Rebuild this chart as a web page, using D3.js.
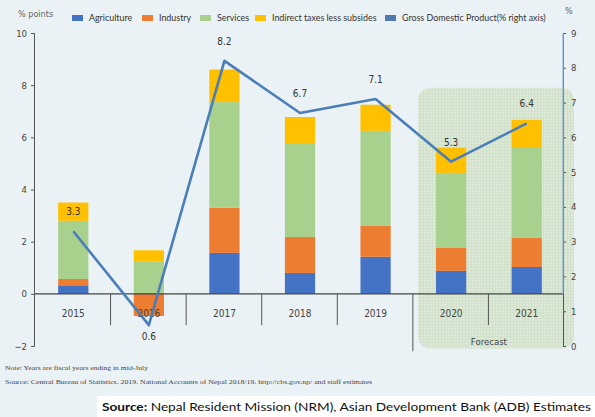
<!DOCTYPE html>
<html>
<head>
<meta charset="utf-8">
<script src="https://cdn.jsdelivr.net/npm/d3@7"></script>
<style>
  body { margin: 0; background: #fff; }
  svg text { font-family: "Liberation Sans Narrow", "DejaVu Sans Condensed", sans-serif; }
  .tick text { font-size: 9.5px; fill: #444; }
  .legend text { font-family: Lato, sans-serif; font-size: 8.9px; fill: #333; }
</style>
</head>
<body>
<div id="chart"></div>
<script>
// data
var years = ['2015', '2016', '2017', '2018', '2019', '2020', '2021'];
var agriculture = [0.3, 0.02, 1.57, 0.8, 1.42, 0.88, 1.03];
var industry = [0.27, -0.85, 1.73, 1.38, 1.18, 0.88, 1.11];
var services = [2.23, 1.23, 4.05, 3.6, 3.65, 2.88, 3.49];
var indirectTaxes = [0.7, 0.42, 1.25, 1.0, 1.0, 0.96, 1.04];
var gdp = [3.3, 0.6, 8.2, 6.7, 7.1, 5.3, 6.4];
var leftTicks = [-2, 0, 2, 4, 6, 8, 10];
var rightTicks = [0, 1, 2, 3, 4, 5, 6, 7, 8, 9];
var forecastYears = ['2020', '2021'];

var seriesKeys = ['agriculture', 'industry', 'services', 'indirect'];
var seriesNames = ['Agriculture', 'Industry', 'Services', 'Indirect taxes less subsides'];
var colors = ['#4472c4', '#ed7d31', '#a9d18e', '#ffc000'];
var lineColor = '#4a7ebb';

var rows = years.map(function (y, i) {
  return { year: y, agriculture: agriculture[i], industry: industry[i],
           services: services[i], indirect: indirectTaxes[i], gdp: gdp[i] };
});

var W = 595, H = 417;
var plotLeft = 34, plotRight = 563, plotTop = 33, plotBottom = 346;

var svg = d3.select('#chart').append('svg')
  .attr('width', W)
  .attr('height', H);

// backgrounds
svg.append('rect').attr('width', W).attr('height', H).attr('fill', '#ebf2f5');
svg.append('rect').attr('x', 97).attr('y', 396).attr('width', W - 97).attr('height', H - 396).attr('fill', '#ffffff');

// scales
var x = d3.scaleBand().domain(years).range([plotLeft + 1.5, plotRight + 1.5]).paddingInner(0.6).paddingOuter(0.3);
var y = d3.scaleLinear().domain([-2, 10]).range([plotBottom, plotTop]);
var y2 = d3.scaleLinear().domain([0, 9]).range([plotBottom, plotTop]);
var step = x.step();

// forecast shading with a fine grid
var defs = svg.append('defs');
var pat = defs.append('pattern')
  .attr('id', 'grid').attr('width', 3).attr('height', 3)
  .attr('patternUnits', 'userSpaceOnUse');
pat.append('rect').attr('width', 3).attr('height', 3).attr('fill', '#dce9d6');
pat.append('path').attr('d', 'M0,0.5H3M0.5,0V3').attr('stroke', '#cbdbc3').attr('stroke-width', 0.5);

var fx0 = x(forecastYears[0]) - 18;
var fx1 = x(forecastYears[1]) + x.bandwidth() + 32;
svg.append('rect')
  .attr('x', fx0).attr('y', y(7.9))
  .attr('width', fx1 - fx0).attr('height', y(-2.1) - y(7.9))
  .attr('rx', 12).attr('ry', 12)
  .attr('fill', 'url(#grid)');

// stacked bars
var stack = d3.stack().keys(seriesKeys).offset(d3.stackOffsetDiverging);
var layers = stack(rows);

svg.append('g').selectAll('g')
  .data(layers)
  .enter().append('g')
  .attr('fill', function (d, i) { return colors[i]; })
  .selectAll('rect')
  .data(function (d) { return d; })
  .enter().append('rect')
  .attr('x', function (d) { return x(d.data.year); })
  .attr('width', x.bandwidth())
  .attr('y', function (d) { return y(Math.max(d[0], d[1])); })
  .attr('height', function (d) { return Math.abs(y(d[0]) - y(d[1])); });

// zero line and category separators
svg.append('line')
  .attr('x1', plotLeft).attr('x2', plotRight)
  .attr('y1', y(0)).attr('y2', y(0))
  .attr('stroke', '#444').attr('stroke-width', 1.2);

svg.append('g').selectAll('line')
  .data(years.slice(1))
  .enter().append('line')
  .attr('x1', function (d) { return x(d) - step * 0.3 - 0.5; })
  .attr('x2', function (d) { return x(d) - step * 0.3 - 0.5; })
  .attr('y1', y(0))
  .attr('y2', function (d) { return d === forecastYears[0] ? y(-2.2) : y(-1.2); })
  .attr('stroke', '#555').attr('stroke-width', 1);

// category labels
svg.append('g').selectAll('text')
  .data(years)
  .enter().append('text')
  .attr('x', function (d) { return x(d) + x.bandwidth() / 2; })
  .attr('y', y(0) + 23)
  .attr('text-anchor', 'middle')
  .style('font-size', '10px')
  .style('fill', '#444')
  .text(function (d) { return d; });

svg.append('text')
  .attr('x', (x(forecastYears[0]) + x(forecastYears[1]) + x.bandwidth()) / 2)
  .attr('y', y(-1.95))
  .attr('text-anchor', 'middle')
  .style('font-size', '9.5px')
  .style('fill', '#444')
  .text('Forecast');

// left axis
var leftAxis = svg.append('g')
  .attr('transform', 'translate(' + plotLeft + ',0)')
  .call(d3.axisLeft(y).tickValues(leftTicks).tickSize(3).tickPadding(4));
leftAxis.select('.domain').attr('stroke', '#555');
leftAxis.selectAll('.tick line').attr('stroke', '#555');

// right axis
var rightAxis = svg.append('g')
  .attr('transform', 'translate(' + plotRight + ',0)')
  .call(d3.axisRight(y2).tickValues(rightTicks).tickSize(3).tickPadding(5));
rightAxis.select('.domain').attr('stroke', '#555');
rightAxis.selectAll('.tick line').attr('stroke', '#555');
svg.append('line')
  .attr('x1', plotRight).attr('x2', plotRight)
  .attr('y1', plotTop).attr('y2', y(0))
  .attr('stroke', '#8fb3da').attr('stroke-width', 1.2);

// axis titles
svg.append('text').attr('x', 18).attr('y', 17)
  .style('font-size', '9px').style('fill', '#666').text('% points');
svg.append('text').attr('x', 565).attr('y', 14)
  .style('font-size', '9px').style('fill', '#666').text('%');

// GDP line
var line = d3.line()
  .x(function (d) { return x(d.year) + x.bandwidth() / 2; })
  .y(function (d) { return y2(d.gdp); });

svg.append('path')
  .datum(rows)
  .attr('fill', 'none')
  .attr('stroke', lineColor)
  .attr('stroke-width', 2.6)
  .attr('stroke-linejoin', 'round')
  .attr('d', line);

// GDP labels
svg.append('g').selectAll('text')
  .data(rows)
  .enter().append('text')
  .attr('x', function (d) { return x(d.year) + x.bandwidth() / 2; })
  .attr('y', function (d, i) {
    if (i === 1) return y2(d.gdp) + 15;
    return y2(d.gdp) - 16;
  })
  .attr('text-anchor', 'middle')
  .style('font-size', '10px')
  .style('fill', '#333')
  .text(function (d) { return d.gdp.toFixed(1); });

// legend
var legendItems = seriesNames.map(function (n, i) { return { name: n, color: colors[i] }; })
  .concat([{ name: 'Gross Domestic Product(% right axis)', color: '#4f7ab0' }]);
var legendX = [72, 142, 200, 255, 385];

var legend = svg.append('g').attr('class', 'legend');
legendItems.forEach(function (d, i) {
  legend.append('rect')
    .attr('x', legendX[i]).attr('y', 15)
    .attr('width', 11).attr('height', 6)
    .attr('fill', d.color);
  legend.append('text')
    .attr('x', legendX[i] + 17).attr('y', 21)
    .text(d.name);
});

// notes
svg.append('text').attr('x', 5).attr('y', 370)
  .style('font-family', '"Liberation Serif", serif')
  .style('font-size', '7px').style('fill', '#444')
  .attr('textLength', 143).attr('lengthAdjust', 'spacingAndGlyphs')
  .text('Note: Years are fiscal years ending in mid-July');
svg.append('text').attr('x', 5).attr('y', 384)
  .style('font-family', '"Liberation Serif", serif')
  .style('font-size', '7px').style('fill', '#444')
  .attr('textLength', 367).attr('lengthAdjust', 'spacingAndGlyphs')
  .text('Source: Central Bureau of Statistics. 2019. National Accounts of Nepal 2018/19. http://cbs.gov.np/ and staff estimates');

// bottom source
var src = svg.append('text').attr('x', 102).attr('y', 411)
  .style('font-family', 'Lato, sans-serif')
  .style('font-size', '11.5px').style('fill', '#111')
  .attr('textLength', 489).attr('lengthAdjust', 'spacingAndGlyphs');
src.append('tspan').style('font-weight', 'bold').text('Source:');
src.append('tspan').text(' Nepal Resident Mission (NRM), Asian Development Bank (ADB) Estimates');
</script>
</body>
</html>
